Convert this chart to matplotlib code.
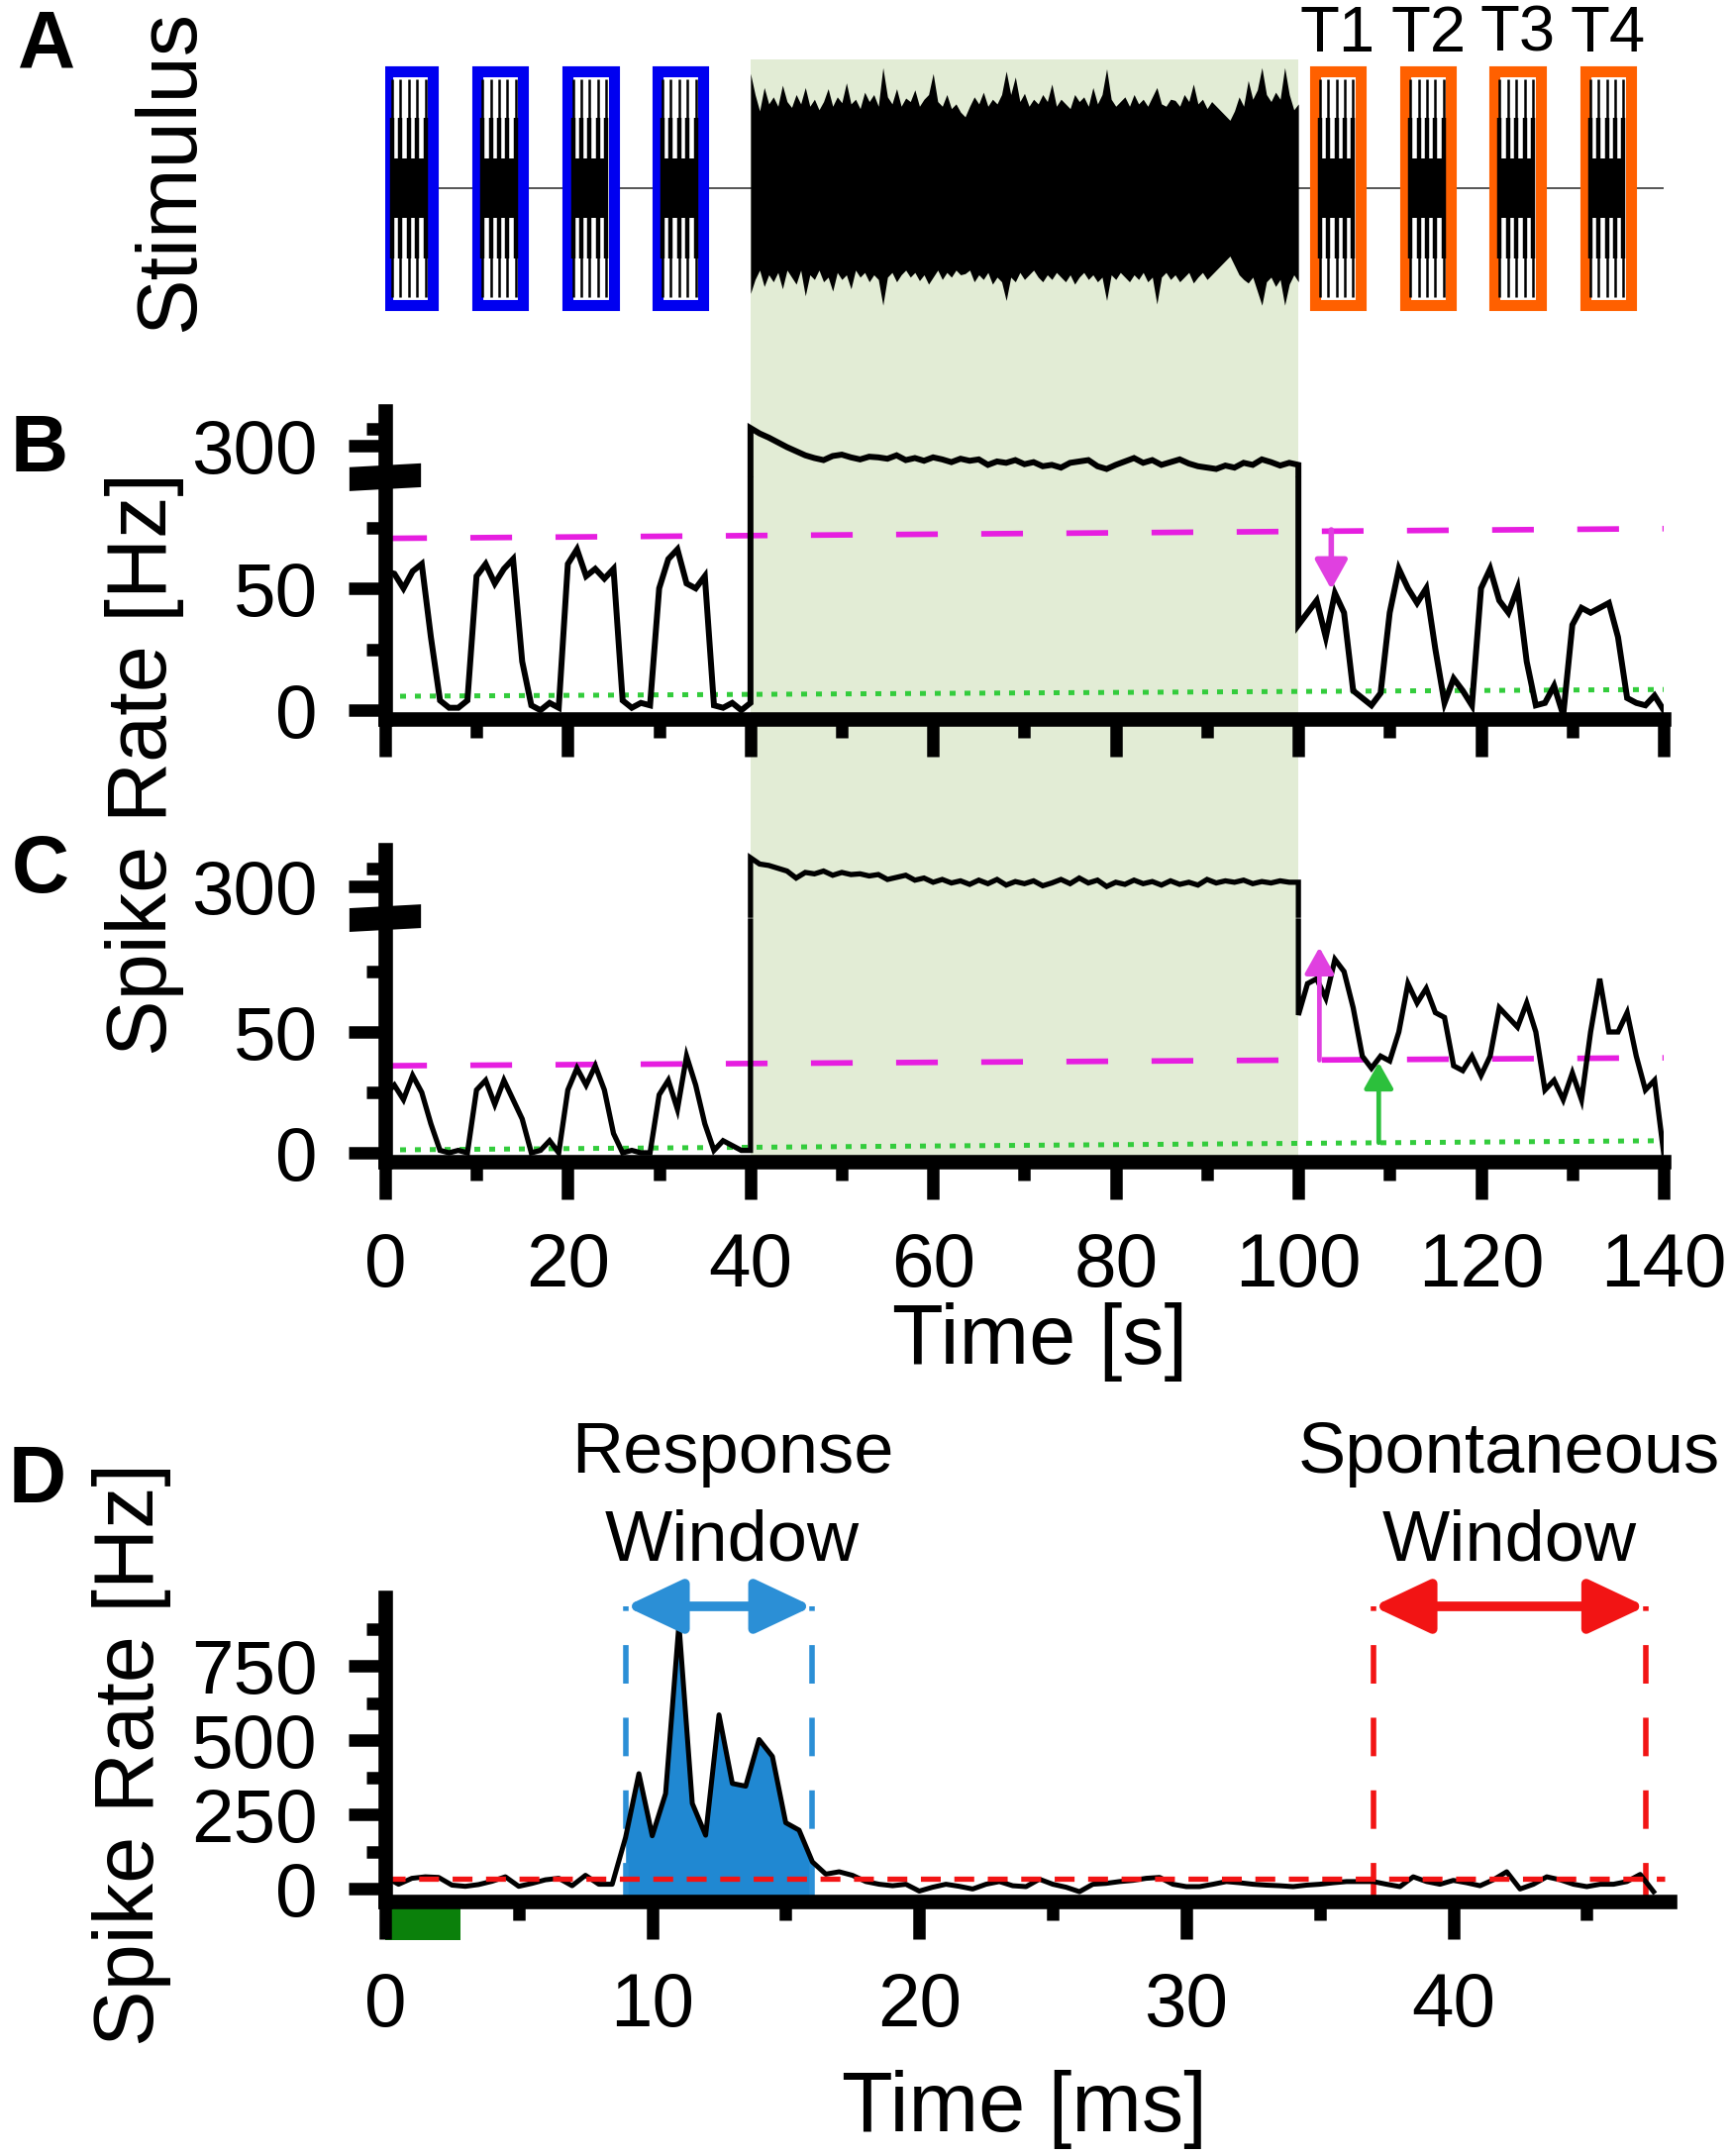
import numpy as np
import matplotlib
matplotlib.use('Agg')
import matplotlib.pyplot as plt
from matplotlib.patches import Rectangle, Polygon
from matplotlib.transforms import blended_transform_factory
from matplotlib.ticker import MultipleLocator, FixedLocator

plt.rcParams['font.family'] = ['Liberation Sans', 'DejaVu Sans']

# ---- data ----
# stimulus (A): tone onsets [s], tone duration, noise envelope (0.5 s steps, 40..100 s)
probe_onsets = [0.2, 10.1, 20.0, 29.8]
test_onsets = [101.8, 111.7, 121.5, 131.4]
test_names = ['T1', 'T2', 'T3', 'T4']
tone_dur = 5.0
noise_on, noise_off = 40, 100
noise_top = [0.98, 0.80, 0.66, 0.86, 0.72, 0.78, 0.70, 0.88, 0.74, 0.69, 0.80, 0.72, 0.86, 0.70,
             0.76, 0.67, 0.74, 0.85, 0.70, 0.78, 0.73, 0.90, 0.72, 0.76, 0.68, 0.82, 0.74, 0.80,
             0.70, 1.03, 0.78, 0.72, 0.85, 0.70, 0.77, 0.74, 0.84, 0.70, 0.76, 0.80, 0.98, 0.74,
             0.70, 0.80, 0.68, 0.72, 0.65, 0.61, 0.70, 0.78, 0.72, 0.82, 0.70, 0.76, 0.72, 0.80,
             1.00, 0.80, 0.95, 0.74, 0.81, 0.70, 0.76, 0.72, 0.80, 0.74, 0.89, 0.70, 0.76, 0.72,
             0.68, 0.80, 0.74, 0.78, 0.70, 0.86, 0.72, 0.80, 1.02, 0.76, 0.70, 0.74, 0.78, 0.70,
             0.80, 0.72, 0.76, 0.70, 0.78, 0.86, 0.72, 0.70, 0.76, 0.75, 0.70, 0.80, 0.74, 0.89,
             0.72, 0.76, 0.68, 0.74, 0.70, 0.66, 0.62, 0.58, 0.66, 0.78, 0.70, 0.92, 0.76, 0.84,
             1.03, 0.80, 0.74, 0.82, 0.76, 1.03, 0.80, 0.67, 0.72]
noise_bot = [0.90, 0.78, 0.70, 0.84, 0.74, 0.80, 0.72, 0.86, 0.70, 0.76, 0.82, 0.70, 0.92, 0.74,
             0.78, 0.70, 0.80, 0.76, 0.88, 0.72, 0.78, 0.74, 0.86, 0.70, 0.76, 0.72, 0.80, 0.74,
             0.78, 1.00, 0.76, 0.72, 0.80, 0.74, 0.70, 0.76, 0.72, 0.79, 0.74, 0.82, 0.76, 0.70,
             0.78, 0.72, 0.76, 0.70, 0.74, 0.73, 0.70, 0.80, 0.74, 0.78, 0.72, 0.82, 0.76, 0.80,
             0.96, 0.76, 0.80, 0.72, 0.78, 0.74, 0.70, 0.76, 0.80, 0.74, 0.78, 0.72, 0.76, 0.80,
             0.74, 0.82, 0.76, 0.72, 0.78, 0.74, 0.80, 0.76, 0.96, 0.74, 0.78, 0.72, 0.76, 0.80,
             0.74, 0.78, 0.72, 0.80, 0.76, 0.99, 0.76, 0.72, 0.78, 0.74, 0.80, 0.76, 0.72, 0.81,
             0.76, 0.72, 0.78, 0.74, 0.70, 0.66, 0.62, 0.58, 0.66, 0.74, 0.78, 0.81, 0.76, 0.88,
             1.00, 0.80, 0.76, 0.84, 0.78, 1.00, 0.82, 0.74, 0.80]

# spike rates [Hz], 1 s bins: before noise (0-40), during noise (40-100), after (100-140)
b_pre = [57, 56, 50, 57, 60, 30, 4, 1, 1, 4, 55, 60, 52, 58, 62, 20, 2, 0, 3, 1, 60,
         66, 55, 58, 54, 58, 4, 1, 3, 2, 50, 62, 66, 52, 50, 55, 2, 1, 3, 0, 3]
b_noise = [326, 318, 312, 305, 298, 292, 286, 282, 279, 285, 287, 283, 280, 284, 283, 281,
           286, 279, 282, 278, 283, 280, 276, 281, 278, 280, 272, 277, 275, 279, 273, 276,
           270, 272, 268, 275, 277, 279, 270, 266, 272, 277, 282, 275, 279, 272, 276, 280,
           274, 270, 268, 266, 271, 268, 275, 272, 280, 276, 271, 275, 272]
b_post = [35, 40, 45, 30, 48, 40, 8, 5, 2, 7, 40, 58, 50, 44, 50, 25, 3, 13, 8, 2, 50,
          58, 45, 40, 50, 20, 2, 3, 10, -2, 35, 42, 40, 42, 44, 30, 5, 3, 2, 6, 0]
c_pre = [24, 28, 22, 32, 25, 12, 1, 0, 1, 0, 26, 30, 20, 30, 22, 14, 0, 1, 5, 0, 26,
         35, 28, 36, 26, 8, 0, 1, 0, 0, 24, 30, 18, 40, 28, 12, 1, 5, 3, 1, 1]
c_noise = [341, 332, 330, 326, 322, 312, 320, 318, 322, 316, 320, 317, 318, 315, 317, 310,
           313, 316, 309, 312, 306, 310, 305, 308, 303, 309, 304, 310, 302, 307, 304, 308,
           301, 305, 310, 304, 312, 305, 309, 300, 306, 303, 309, 304, 307, 302, 308, 303,
           306, 302, 310, 305, 308, 306, 309, 304, 307, 305, 308, 306, 306]
c_post = [57, 70, 72, 64, 80, 75, 60, 40, 35, 40, 38, 50, 70, 62, 68, 58, 56, 36, 34, 40,
          32, 40, 60, 56, 52, 62, 50, 26, 30, 22, 33, 22, 50, 72, 50, 50, 58, 40, 26, 30, 0]

# threshold lines (value at 0 s and at 140 s) and arrows (x, from, to)
b_mean_line = [70.5, 74.5]
b_spont_line = [5.7, 8.5]
c_mean_line = [36.0, 39.3]
c_spont_line = [1.2, 5.0]
b_arrow = (103.6, 74.0, 49.6)
c_arrow_mag = (102.3, 38.3, 85.0)
c_arrow_grn = (108.8, 4.2, 37.4)

# PSTH (D), 0.5 ms bins
d_rate = [40, 15, 35, 40, 38, 12, 8, 14, 25, 40, 8, 18, 30, 35, 10, 45, 15, 15,
          172, 387, 178, 320, 890, 287, 180, 585, 354, 345, 502, 445, 222, 197, 90, 49, 57, 45,
          24, 15, 10, 15, -8, 5, 15, 8, -1, 15, 24, 10, 7, 32, 15, 5, -10, 15, 18, 24,
          28, 35, 38, 15, 7, 7, 15, 24, 20, 15, 12, 10, 7, 12, 15, 20, 24, 24, 24, 15,
          7, 40, 24, 15, 28, 20, 10, 30, 57, -1, 15, 40, 30, 15, 7, 15, 15, 24, 48, -10]
d_spont = 35
resp_win = [9, 16]
spont_win = [37, 47.2]
win_arrow_y = 950
stim_dur_ms = 2.8

# ---- colours ----
GREEN_BG = '#e2ecd5'
MAGENTA = '#e61ee0'
MAG_ARROW = '#e040e0'
DOTGREEN = '#33cc3c'
BLUE = '#2b8fd6'
FILLBLUE = '#2088d2'
RED = '#f21414'

W, H = 1749, 2177
fig = plt.figure(figsize=(W / 100, H / 100), dpi=100)


def box(l, t, r, b):
    return [l / W, 1 - b / H, (r - l) / W, (b - t) / H]


def fy(px):
    return 1 - px / H


axA = fig.add_axes(box(389, 60, 1680, 320))
axB = fig.add_axes(box(389, 415.4, 1680, 726))
axC = fig.add_axes(box(389, 858, 1680, 1173.3))
axD = fig.add_axes(box(389, 1613, 1686, 1920))

# ---- A: stimulus ----
axA.set_facecolor('none')
axA.axis('off')
axA.set_xlim(0, 140)
axA.set_ylim(-1.1, 1.1)
axA.plot([0, 140], [0, 0], color='#555555', lw=1.4, zorder=1)
for onsets, col in [(probe_onsets, '#0000f0'), (test_onsets, '#ff6000')]:
    for on in onsets:
        axA.add_patch(Rectangle((on, -1.0), tone_dur, 2.0, facecolor='white',
                                edgecolor=col, lw=8, joinstyle='miter', zorder=2))
        t0, t1 = on + 0.55, on + 4.2
        xs = np.linspace(t0, t1, 5)
        axA.vlines(xs, -0.93, 0.93, colors='k', lw=1.8, zorder=3)
        axA.vlines(xs, -0.6, 0.6, colors='k', lw=3.2, zorder=3)
        axA.fill_between([t0, t1], -0.25, 0.25, color='k', lw=0, zorder=3)
t_env = np.linspace(noise_on, noise_off, len(noise_top))
axA.fill_between(t_env, -np.array(noise_bot), noise_top, color='k', lw=0, zorder=3)
transA = blended_transform_factory(axA.transData, fig.transFigure)
for on, name in zip(test_onsets, test_names):
    axA.text(on + tone_dur / 2, fy(52), name, transform=transA, ha='center',
             va='baseline', fontsize=47)

# green noise shading across A-C
trans_bg = blended_transform_factory(axC.transData, fig.transFigure)
fig.patches.append(Rectangle((noise_on, fy(1168)), noise_off - noise_on, (1168 - 60) / H,
                             transform=trans_bg, facecolor=GREEN_BG, edgecolor='none',
                             zorder=-1))


def style(ax):
    ax.set_facecolor('none')
    for s in ['top', 'right']:
        ax.spines[s].set_visible(False)
    for s in ['left', 'bottom']:
        ax.spines[s].set_linewidth(10.5)
        ax.spines[s].set_capstyle('projecting')
        ax.spines[s].set_zorder(6)
    ax.tick_params(which='major', direction='out', length=27, width=9, labelsize=55)
    ax.tick_params(which='minor', direction='out', length=13.5, width=9)
    ax.tick_params(axis='y', pad=22)
    ax.tick_params(axis='x', pad=24)


def split_break(t, y, pos, gap=1.2):
    xs, ys = [t[0]], [y[0]]
    for i in range(1, len(t)):
        lo0, lo1 = y[i - 1] < pos, y[i] < pos
        if lo0 != lo1:
            a = pos - gap if lo0 else pos + gap
            b = pos + gap if lo0 else pos - gap
            for v in (a, None, b):
                if v is None:
                    xs.append(np.nan)
                    ys.append(np.nan)
                else:
                    f = (v - y[i - 1]) / (y[i] - y[i - 1])
                    xs.append(t[i - 1] + f * (t[i] - t[i - 1]))
                    ys.append(v)
        xs.append(t[i])
        ys.append(y[i])
    return np.array(xs), np.array(ys)


def rate_panel(ax, pre, noise, post, p300, k, brk_pos, top, bottom, mean_line, spont_line,
               lw):
    def brk(v):
        v = np.asarray(v, dtype=float)
        return np.where(v > 150, p300 + (v - 300) * k, v)

    style(ax)
    t = np.concatenate([np.arange(0, len(pre)), noise_on + np.arange(len(noise)),
                        noise_off + np.arange(len(post))])
    y = brk(np.concatenate([pre, noise, post]))
    xs, ys = split_break(t, y, brk_pos)
    ax.plot(xs, ys, color='k', lw=lw, zorder=4, solid_joinstyle='miter')
    ax.plot([0, 140], mean_line, color=MAGENTA, lw=4.1, ls=(0, (7.4, 7.7)), zorder=3)
    ax.plot([0, 140], spont_line, color=DOTGREEN, lw=3.6, ls=(0, (1.2, 1.8)), zorder=3)
    ax.set_xlim(0, 140)
    ax.set_ylim(bottom, top)
    ax.set_xticks(range(0, 141, 20))
    ax.xaxis.set_minor_locator(MultipleLocator(10))
    ax.set_yticks([0, 50, float(brk(300))])
    ax.set_yticklabels(['0', '50', '300'])
    ax.yaxis.set_minor_locator(FixedLocator([25, 75, float(brk(325))]))
    tr = blended_transform_factory(ax.transAxes, ax.transData)
    ax.add_patch(Polygon([(-0.028, brk_pos - 5.7), (0.028, brk_pos - 4.1),
                          (0.028, brk_pos + 5.7), (-0.028, brk_pos + 4.1)],
                         closed=True, transform=tr, facecolor='k', edgecolor='none',
                         clip_on=False, zorder=7))


def varrow(ax, x, y0, y1, col, lw, hl, hw):
    ax.annotate('', xy=(x, y1), xytext=(x, y0),
                arrowprops=dict(arrowstyle=f'-|>,head_length={hl},head_width={hw}',
                                mutation_scale=10, color=col, lw=lw,
                                shrinkA=0, shrinkB=0), zorder=5)


# ---- B ----
rate_panel(axB, b_pre, b_noise, b_post, 108.5, 0.28, 95.6, 122.6, -3.6,
           b_mean_line, b_spont_line, 4.3)
axB.tick_params(axis='x', labelbottom=False)
varrow(axB, b_arrow[0], b_arrow[1], b_arrow[2], MAG_ARROW, 4, 1.8, 1.0)

# ---- C ----
rate_panel(axC, c_pre, c_noise, c_post, 110.2, 0.29, 97.1, 125.4, -3.8,
           c_mean_line, c_spont_line, 3.8)
varrow(axC, c_arrow_mag[0], c_arrow_mag[1], c_arrow_mag[2], MAG_ARROW, 3.4, 1.6, 0.9)
varrow(axC, c_arrow_grn[0], c_arrow_grn[1], c_arrow_grn[2], '#2cc03c', 3.4, 1.6, 0.9)

# ---- D ----
style(axD)
t_d = np.arange(len(d_rate)) * 0.5
d = np.array(d_rate, dtype=float)
axD.set_xlim(0, 48.1)
axD.set_ylim(-43, 980)
axD.fill_between(t_d, -43, d, where=(t_d >= resp_win[0]) & (t_d <= resp_win[1]),
                 color=FILLBLUE, lw=0, zorder=2)
axD.plot(t_d, d, color='k', lw=3.6, zorder=4)
axD.plot([0, 47.9], [d_spont, d_spont], color=RED, lw=3.8, ls=(0, (3.8, 2.6)), zorder=5)
axD.vlines(resp_win, -43, win_arrow_y, colors=BLUE, lw=4, linestyles=[(0, (7, 6.2))],
           zorder=3)
axD.vlines(spont_win, -43, win_arrow_y, colors=RED, lw=4, linestyles=[(0, (7, 6.2))],
           zorder=3)
for win, col in [(resp_win, BLUE), (spont_win, RED)]:
    axD.annotate('', xy=(win[1], win_arrow_y), xytext=(win[0], win_arrow_y),
                 arrowprops=dict(arrowstyle='<|-|>,head_length=3.5,head_width=1.65',
                                 mutation_scale=10, color=col, lw=7,
                                 shrinkA=0, shrinkB=0), annotation_clip=False, zorder=5)
axD.add_patch(Rectangle((0, -43), stim_dur_ms, -130, facecolor='#0b800b', edgecolor='none',
                        clip_on=False, zorder=1))
axD.set_xticks([0, 10, 20, 30, 40])
axD.xaxis.set_minor_locator(FixedLocator([5, 15, 25, 35, 45]))
axD.set_yticks([0, 250, 500, 750])
axD.yaxis.set_minor_locator(FixedLocator([125, 375, 625, 875]))
transD = blended_transform_factory(axD.transData, fig.transFigure)
for x, l1 in [(13.0, 'Response'), (42.1, 'Spontaneous')]:
    axD.text(x, fy(1487), l1, transform=transD, ha='center', va='baseline', fontsize=52)
    axD.text(x, fy(1576), 'Window', transform=transD, ha='center', va='baseline',
             fontsize=52)

# ---- labels ----
for lab, x, y in [('A', 47, 47), ('B', 40, 455), ('C', 41, 880), ('D', 38, 1496)]:
    fig.text(x / W, fy(y), lab, fontsize=58, fontweight='bold', ha='center', va='center')
fig.text(173 / W, fy(172), 'Stimulus', rotation=90, fontsize=61, ha='center', va='center')
fig.text(146 / W, fy(772), 'Spike Rate [Hz]', rotation=90, fontsize=61, ha='center',
         va='center')
fig.text(133 / W, fy(1771), 'Spike Rate [Hz]', rotation=90, fontsize=61, ha='center',
         va='center')
fig.text(1050 / W, fy(1377), 'Time [s]', fontsize=61, ha='center', va='baseline')
fig.text(1034 / W, fy(2152), 'Time [ms]', fontsize=61, ha='center', va='baseline')

fig.savefig('out.png', dpi=100)
